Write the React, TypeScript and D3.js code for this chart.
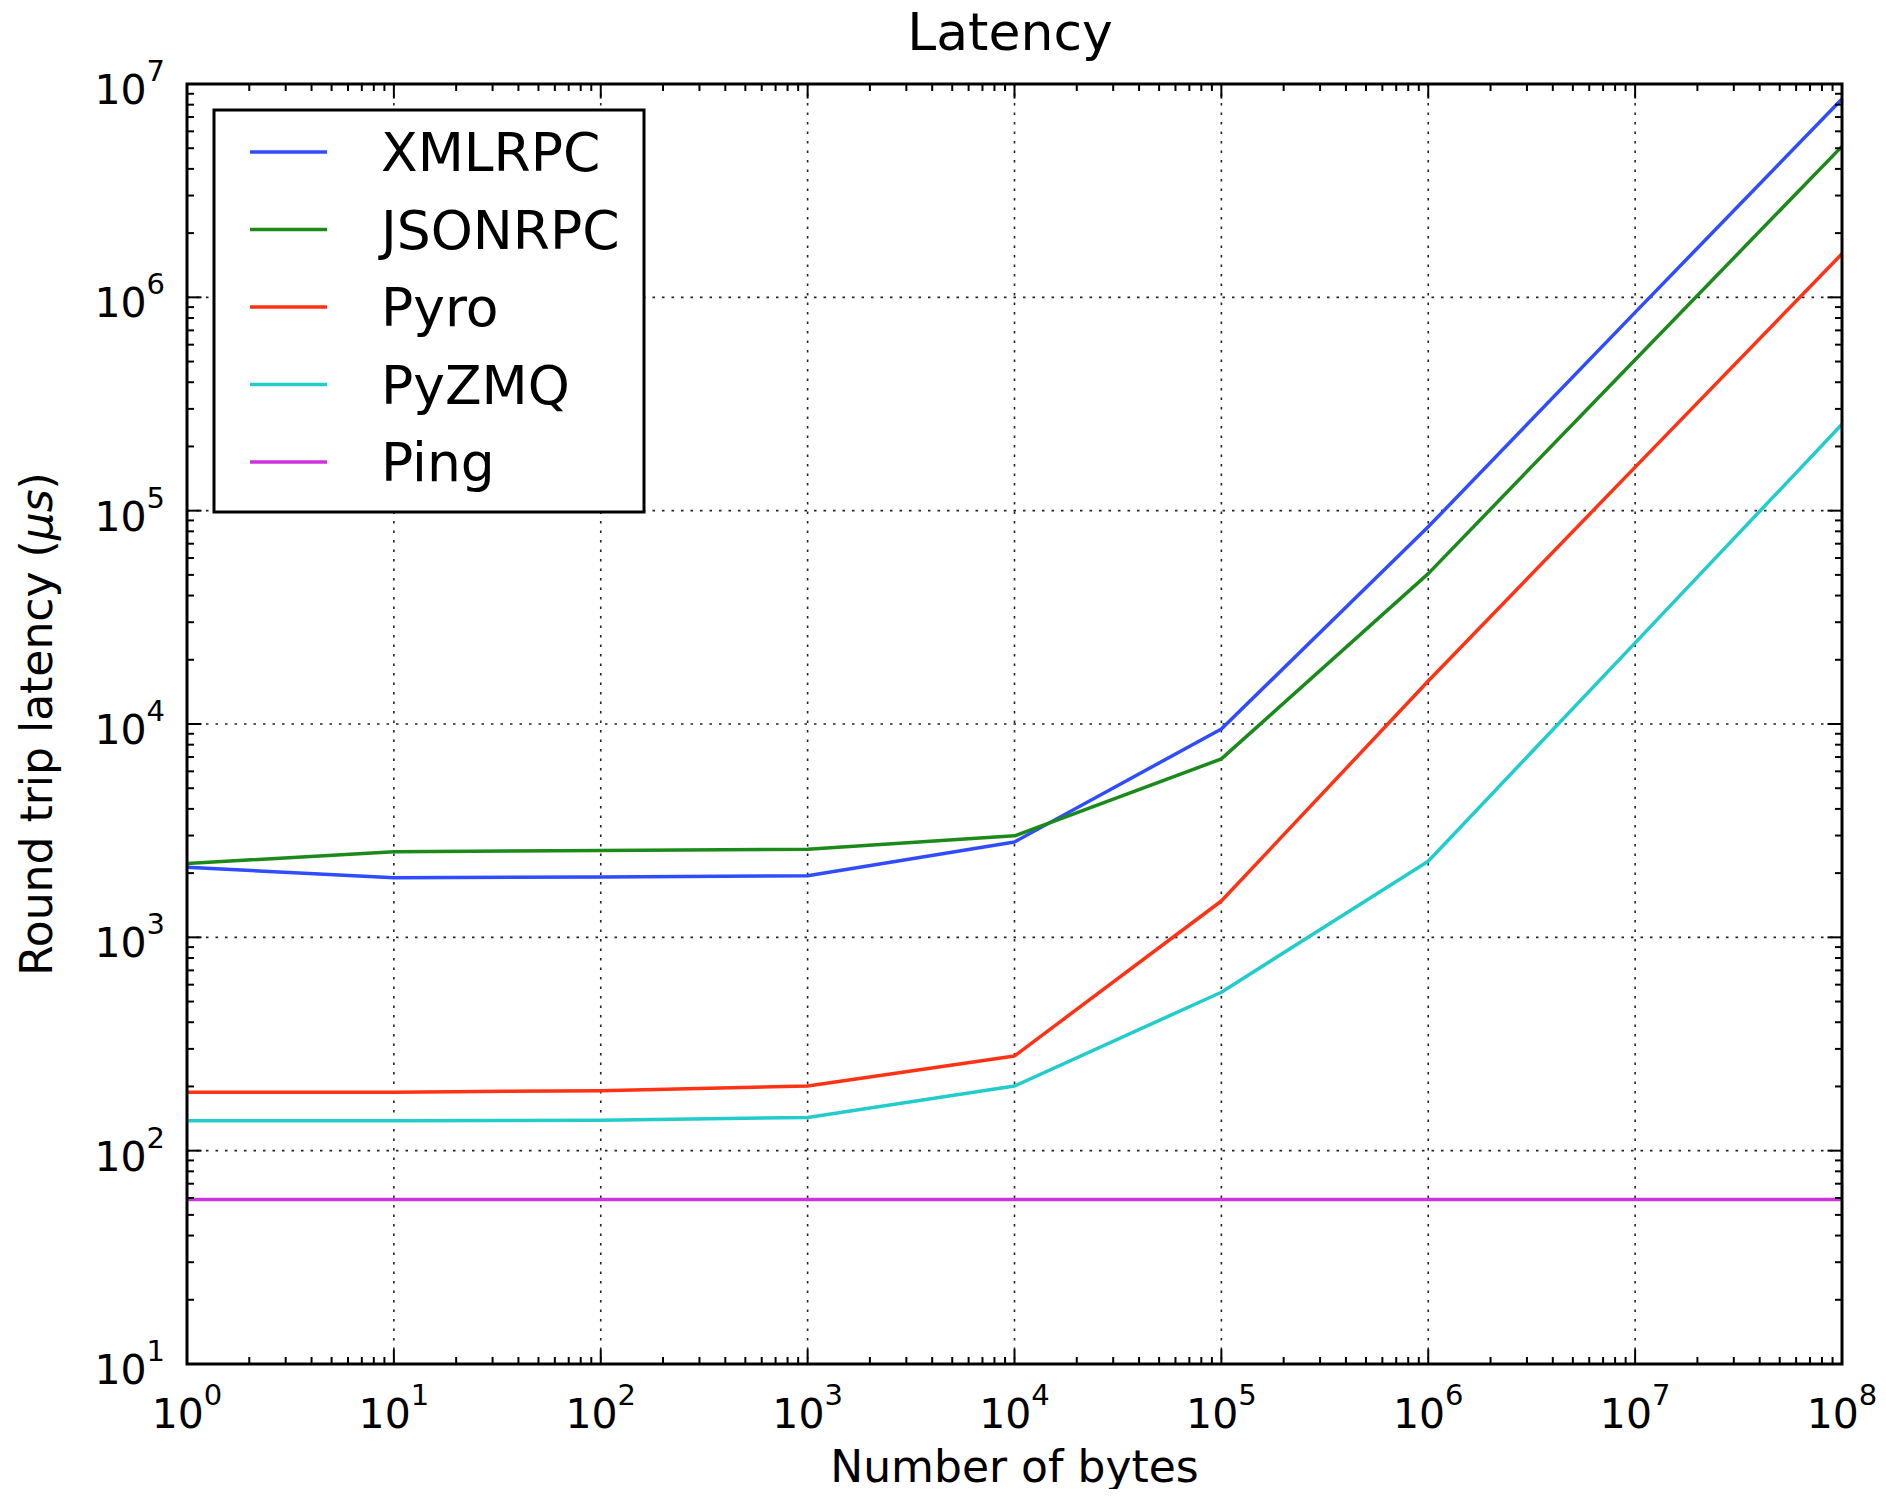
import React from "react";
import { scaleLog, line, range } from "d3";

// message sizes (bytes)
const sizes = [1, 10, 100, 1e3, 1e4, 1e5, 1e6, 1e7, 1e8];

// round trip latency in microseconds
const xmlrpc = [2130, 1900, 1920, 1945, 2800, 9480, 84000, 850000, 8.5e6];
const jsonrpc = [2220, 2520, 2550, 2590, 2990, 6860, 50700, 510000, 5.1e6];
const pyro = [188, 188, 191, 201, 278, 1480, 15900, 160000, 1.6e6];
const pyzmq = [138, 138, 139, 143, 201, 553, 2275, 24000, 2.54e5];
const ping = [59, 59, 59, 59, 59, 59, 59, 59, 59];

const seriesNames = ["XMLRPC", "JSONRPC", "Pyro", "PyZMQ", "Ping"];
const seriesValues = [xmlrpc, jsonrpc, pyro, pyzmq, ping];
const seriesColors = ["#2f4cff", "#1b8a1b", "#ff3214", "#22cccc", "#cc33dd"];

const xExps = range(0, 9);
const yExps = range(1, 8);

const FONT = "'DejaVu Sans', Verdana, sans-serif";

function PowerLabel({ x, y, exp, anchor }: { x: number; y: number; exp: number; anchor: string }) {
  return (
    <text x={x} y={y} textAnchor={anchor} fontFamily={FONT} fontSize={41} fill="#000">
      10
      <tspan fontSize={29} dy={-23}>
        {exp}
      </tspan>
    </text>
  );
}

export default function App() {
  const width = 1886,
    height = 1497;
  const margin = { left: 187, right: 44, top: 84, bottom: 133 };
  const innerW = width - margin.left - margin.right;
  const innerH = height - margin.top - margin.bottom;

  const x = scaleLog().domain([1, 1e8]).range([0, innerW]);
  const y = scaleLog().domain([10, 1e7]).range([innerH, 0]);

  const lineGen = line<number>()
    .x((_, i) => x(sizes[i]))
    .y(d => y(d));

  const isMajor = (v: number) => Math.abs(Math.log10(v) - Math.round(Math.log10(v))) < 1e-9;
  const xMinor = x.ticks().filter(v => !isMajor(v));
  const yMinor = y.ticks().filter(v => !isMajor(v));

  const major = 14.5,
    minor = 7;

  const legend = { x: 214 - margin.left, y: 110 - margin.top, w: 430, h: 402 };

  return (
    <svg width={width} height={height} style={{ display: "block", margin: -8 }}>
      <rect width={width} height={height} fill="#fff" />
      <text x={1010} y={50} textAnchor="middle" fontFamily={FONT} fontSize={52}>
        Latency
      </text>
      <text
        transform={`translate(52, ${margin.top + innerH / 2}) rotate(-90)`}
        textAnchor="middle"
        fontFamily={FONT}
        fontSize={44}
      >
        Round trip latency (<tspan fontStyle="italic">μs</tspan>)
      </text>
      <text x={margin.left + innerW / 2} y={1482} textAnchor="middle" fontFamily={FONT} fontSize={44}>
        Number of bytes
      </text>

      <g transform={`translate(${margin.left}, ${margin.top})`}>
        {/* grid */}
        {xExps.slice(1, -1).map(e => (
          <line
            key={"gx" + e}
            x1={x(10 ** e)}
            x2={x(10 ** e)}
            y1={0}
            y2={innerH}
            stroke="#222"
            strokeWidth={1.6}
            strokeDasharray="2.5,7"
          />
        ))}
        {yExps.slice(1, -1).map(e => (
          <line
            key={"gy" + e}
            x1={0}
            x2={innerW}
            y1={y(10 ** e)}
            y2={y(10 ** e)}
            stroke="#222"
            strokeWidth={1.6}
            strokeDasharray="2.5,7"
          />
        ))}

        {/* series */}
        {seriesValues.map((vals, i) => (
          <path
            key={seriesNames[i]}
            d={lineGen(vals) || ""}
            fill="none"
            stroke={seriesColors[i]}
            strokeWidth={3.5}
            strokeLinejoin="round"
          />
        ))}

        {/* ticks on all four sides, pointing in */}
        {xExps.map(e => (
          <g key={"tx" + e}>
            <line x1={x(10 ** e)} x2={x(10 ** e)} y1={innerH} y2={innerH - major} stroke="#000" strokeWidth={2} />
            <line x1={x(10 ** e)} x2={x(10 ** e)} y1={0} y2={major} stroke="#000" strokeWidth={2} />
          </g>
        ))}
        {xMinor.map((v, i) => (
          <g key={"mx" + i}>
            <line x1={x(v)} x2={x(v)} y1={innerH} y2={innerH - minor} stroke="#000" strokeWidth={2} />
            <line x1={x(v)} x2={x(v)} y1={0} y2={minor} stroke="#000" strokeWidth={2} />
          </g>
        ))}
        {yExps.map(e => (
          <g key={"ty" + e}>
            <line x1={0} x2={major} y1={y(10 ** e)} y2={y(10 ** e)} stroke="#000" strokeWidth={2} />
            <line x1={innerW} x2={innerW - major} y1={y(10 ** e)} y2={y(10 ** e)} stroke="#000" strokeWidth={2} />
          </g>
        ))}
        {yMinor.map((v, i) => (
          <g key={"my" + i}>
            <line x1={0} x2={minor} y1={y(v)} y2={y(v)} stroke="#000" strokeWidth={2} />
            <line x1={innerW} x2={innerW - minor} y1={y(v)} y2={y(v)} stroke="#000" strokeWidth={2} />
          </g>
        ))}

        <rect x={0} y={0} width={innerW} height={innerH} fill="none" stroke="#000" strokeWidth={3} />

        {/* tick labels */}
        {xExps.map(e => (
          <PowerLabel key={"lx" + e} x={x(10 ** e)} y={innerH + 64} exp={e} anchor="middle" />
        ))}
        {yExps.map(e => (
          <PowerLabel key={"ly" + e} x={-22} y={y(10 ** e) + 20} exp={e} anchor="end" />
        ))}

        {/* legend */}
        <rect x={legend.x} y={legend.y} width={legend.w} height={legend.h} fill="#fff" stroke="#000" strokeWidth={3} />
        {seriesNames.map((name, i) => {
          const ly = legend.y + 42 + i * 77.5;
          return (
            <g key={"lg" + name}>
              <line x1={legend.x + 36} x2={legend.x + 113} y1={ly} y2={ly} stroke={seriesColors[i]} strokeWidth={3.5} />
              <text x={legend.x + 167} y={ly + 19} fontFamily={FONT} fontSize={53.5}>
                {name}
              </text>
            </g>
          );
        })}
      </g>
    </svg>
  );
}
